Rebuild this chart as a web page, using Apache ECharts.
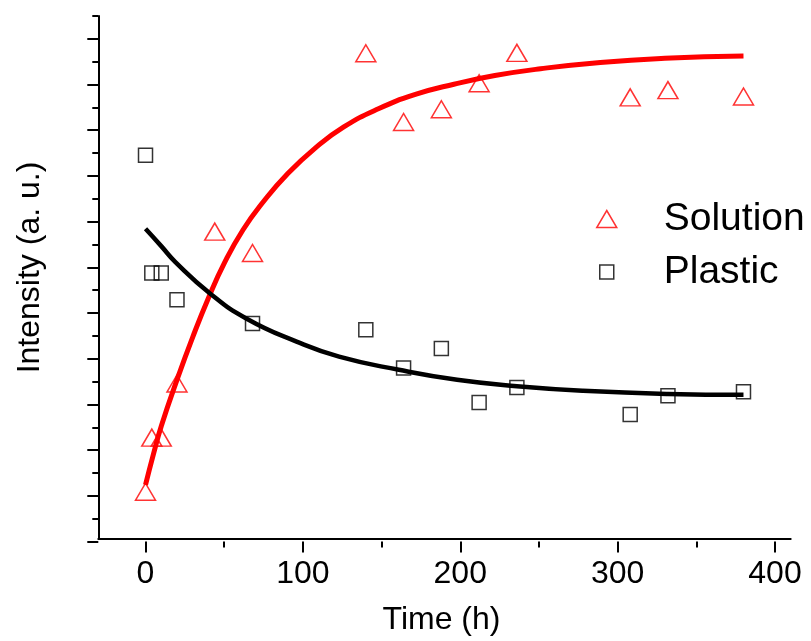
<!DOCTYPE html>
<html><head><meta charset="utf-8">
<script src="https://cdn.jsdelivr.net/npm/echarts@6/dist/echarts.min.js"></script>
<style>html,body{margin:0;padding:0;background:#fff}#c{width:811px;height:641px}</style>
</head><body><div id="c"></div>
<script>
// ---- data ----
const hoursSolution = [0, 4, 10, 20, 44, 68, 140, 164, 188, 212, 236, 308, 332, 380];
const solution      = [1.04, 2.23, 2.23, 3.42, 6.76, 6.29, 10.68, 9.17, 9.45, 10.02, 10.69, 9.71, 9.87, 9.73];
const hoursPlastic  = [0, 4, 10, 20, 68, 140, 164, 188, 212, 236, 308, 332, 380];
const plastic       = [8.44, 5.85, 5.85, 5.26, 4.74, 4.60, 3.76, 4.19, 3.00, 3.33, 2.74, 3.15, 3.24];
const fitHoursSolution = [0, 5, 10, 20, 30, 40, 50, 62, 75, 90, 108, 126, 148, 172, 196, 222, 251, 289, 330, 380];
const fitSolution      = [1.19, 1.86, 2.48, 3.50, 4.44, 5.30, 6.06, 6.80, 7.42, 8.02, 8.60, 9.06, 9.46, 9.78, 10.00, 10.19, 10.34, 10.48, 10.57, 10.62];
const fitHoursPlastic  = [0, 10, 19, 41, 64, 96, 123, 161, 198, 236, 278, 332, 380];
const fitPlastic       = [6.82, 6.44, 6.09, 5.40, 4.85, 4.34, 4.01, 3.72, 3.50, 3.36, 3.26, 3.19, 3.17];
const xTickValues = [0, 100, 200, 300, 400];
const xName = 'Time (h)';
const yName = 'Intensity (a. u.)';
const legendNames = ['Solution', 'Plastic'];

const zip = (a, b) => a.map((v, i) => [v, b[i]]);
const FONT = '"Liberation Sans", Arial, Helvetica, sans-serif';
const BLACK = '#000000', RED = '#ff0000';

const chart = echarts.init(document.getElementById('c'), null, {renderer: 'canvas'});
chart.setOption({
  animation: false,
  backgroundColor: '#ffffff',
  grid: [
    {left: 98.3, right: 20.3, top: 16, bottom: 99.5},    // data grid  x:-30..410, y:0..11.5
    {left: 145.5, right: 36.0, top: 16, bottom: 99.5},   // x tick grid x:0..400
    {left: 98.3, right: 20.3, top: 16, bottom: 99.5},    // minor y ticks 0..11.5 step 0.5
    {left: 98.3, right: 20.3, top: 38.85, bottom: 99.5}  // major y ticks 0..11 step 1
  ],
  xAxis: [
    {gridIndex: 0, type: 'value', min: -30, max: 410,
     axisLine: {show: true, onZero: false, lineStyle: {color: BLACK, width: 2}},
     axisTick: {show: false}, axisLabel: {show: false}, splitLine: {show: false},
     name: xName, nameLocation: 'middle', nameGap: 65,
     nameTextStyle: {fontFamily: FONT, fontSize: 32, color: BLACK, padding: [0, 6, 0, 0]}},
    {gridIndex: 1, type: 'value', min: xTickValues[0], max: xTickValues[xTickValues.length - 1], interval: 100,
     axisLine: {show: false, onZero: false},
     axisTick: {show: true, length: 11, lineStyle: {color: BLACK, width: 2}},
     minorTick: {show: true, splitNumber: 2, length: 6, lineStyle: {color: BLACK, width: 2}},
     axisLabel: {show: true, margin: 17, fontFamily: FONT, fontSize: 32, color: BLACK},
     splitLine: {show: false}},
    {gridIndex: 2, type: 'value', min: -30, max: 410, show: false},
    {gridIndex: 3, type: 'value', min: -30, max: 410, show: false}
  ],
  yAxis: [
    {gridIndex: 0, type: 'value', min: 0, max: 11.5,
     axisLine: {show: true, onZero: false, lineStyle: {color: BLACK, width: 2}},
     axisTick: {show: false}, axisLabel: {show: false}, splitLine: {show: false},
     name: yName, nameLocation: 'middle', nameGap: 52, nameRotate: 90,
     nameTextStyle: {fontFamily: FONT, fontSize: 32, color: BLACK, padding: [0, 0, 0, 20]}},
    {gridIndex: 1, type: 'value', min: 0, max: 1, show: false},
    {gridIndex: 2, type: 'value', min: 0, max: 11.5, interval: 0.5,
     axisLine: {show: false, onZero: false},
     axisTick: {show: true, length: 6, lineStyle: {color: BLACK, width: 2}},
     axisLabel: {show: false}, splitLine: {show: false}},
    {gridIndex: 3, type: 'value', min: 0, max: 11, interval: 1,
     axisLine: {show: false, onZero: false},
     axisTick: {show: true, length: 11, lineStyle: {color: BLACK, width: 2}},
     axisLabel: {show: false}, splitLine: {show: false}}
  ],
  legend: [
    {orient: 'vertical', left: 596, top: 199.5, padding: 0, itemWidth: 20, itemHeight: 17, symbolKeepAspect: false,
     data: [{name: legendNames[0], icon: 'triangle',
             itemStyle: {color: 'rgba(0,0,0,0)', borderColor: RED, borderWidth: 1.5}}],
     textStyle: {fontFamily: FONT, fontSize: 39, color: BLACK, padding: [0, 0, 0, 42]},
     selectedMode: false},
    {orient: 'vertical', left: 599, top: 252.5, padding: 0, itemWidth: 14, itemHeight: 14, symbolKeepAspect: false,
     data: [{name: legendNames[1], icon: 'rect',
             itemStyle: {color: 'rgba(0,0,0,0)', borderColor: BLACK, borderWidth: 1.5}}],
     textStyle: {fontFamily: FONT, fontSize: 39, color: BLACK, padding: [0, 0, 0, 45]},
     selectedMode: false}
  ],
  series: [
    {name: 'Solution fit', type: 'line', xAxisIndex: 0, yAxisIndex: 0,
     data: zip(fitHoursSolution, fitSolution), smooth: 0.5, showSymbol: false, silent: true,
     lineStyle: {color: RED, width: 5}, itemStyle: {color: RED}, z: 2},
    {name: 'Plastic fit', type: 'line', xAxisIndex: 0, yAxisIndex: 0,
     data: zip(fitHoursPlastic, fitPlastic), smooth: 0.5, showSymbol: false, silent: true,
     lineStyle: {color: BLACK, width: 4.5}, itemStyle: {color: BLACK}, z: 2},
    {name: legendNames[0], type: 'scatter', xAxisIndex: 0, yAxisIndex: 0,
     data: zip(hoursSolution, solution), symbol: 'triangle', symbolSize: [20, 17], silent: true,
     itemStyle: {color: 'rgba(0,0,0,0)', borderColor: RED, borderWidth: 1.5}, z: 3},
    {name: legendNames[1], type: 'scatter', xAxisIndex: 0, yAxisIndex: 0,
     data: zip(hoursPlastic, plastic), symbol: 'rect', symbolSize: 14, silent: true,
     itemStyle: {color: 'rgba(0,0,0,0)', borderColor: BLACK, borderWidth: 1.5}, z: 3}
  ]
});
</script>
</body></html>
